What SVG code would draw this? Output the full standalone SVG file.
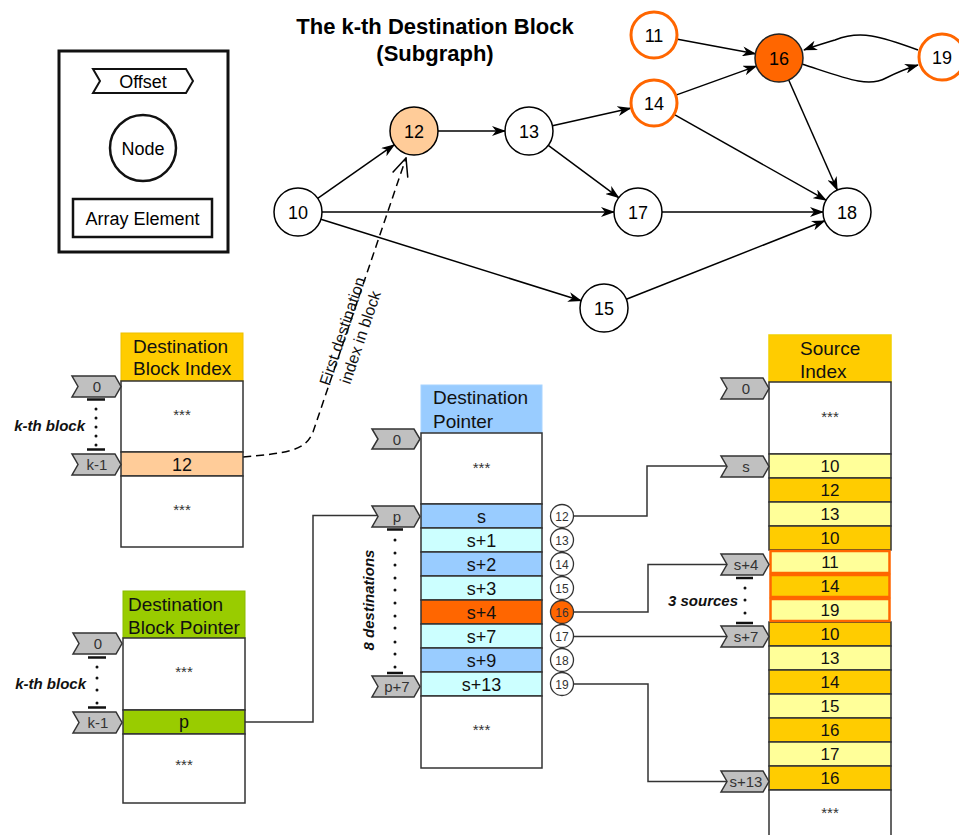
<svg xmlns="http://www.w3.org/2000/svg" width="959" height="835" viewBox="0 0 959 835">
<defs>
<style>
text{font-family:"Liberation Sans",Arial,sans-serif;}
.c{text-anchor:middle}
.gn{fill:#fff;stroke:#000;stroke-width:1.5}
.go{fill:#fff;stroke:#FF6600;stroke-width:3}
.nt{font-size:18px;text-anchor:middle;fill:#000}
.edge{fill:none;stroke:#000;stroke-width:1.5}
.wire{fill:none;stroke:#333;stroke-width:1.5}
.cell{stroke:#333;stroke-width:1.5}
.chev{fill:#C0C0C0;stroke:#333;stroke-width:1.5}
.ct{font-size:15px;fill:#333;text-anchor:middle}
.hd{font-size:19px;fill:#111}
.v{font-size:18px;fill:#111;text-anchor:middle}
.vs{font-size:17px;fill:#111;text-anchor:middle}
.st{font-size:15px;fill:#333;text-anchor:middle}
.sc{fill:#fff;stroke:#333;stroke-width:1.3}
.sct{font-size:12px;fill:#333;text-anchor:middle}
.bi{font-size:15px;font-weight:bold;font-style:italic;fill:#111}
.bar{stroke:#111;stroke-width:2.5}
.dot{fill:#111}
.lt{fill:#FFFF99}
.dk{fill:#FFCC00}
</style>
<marker id="arr" viewBox="0 0 14 10" refX="13" refY="5" markerWidth="14" markerHeight="10" markerUnits="userSpaceOnUse" orient="auto"><path d="M0,0 L14,5 L0,10 L4,5 Z" fill="#000"/></marker>
<marker id="open" viewBox="0 0 20 20" refX="19" refY="10" markerWidth="20" markerHeight="20" markerUnits="userSpaceOnUse" orient="auto"><path d="M1,2 L19,10 L1,18" fill="none" stroke="#000" stroke-width="1.5"/></marker>
</defs>
<rect width="959" height="835" fill="#fff"/>

<!-- Legend -->
<g id="legend">
<rect x="59" y="51" width="169" height="201" fill="#fff" stroke="#111" stroke-width="3"/>
<polygon points="93,69 186,69 193,81 186,93 93,93 100,81" fill="#fff" stroke="#111" stroke-width="2"/>
<text x="143" y="88" class="c" font-size="18">Offset</text>
<circle cx="143" cy="148" r="33" fill="#fff" stroke="#111" stroke-width="2.5"/>
<text x="143" y="154.5" class="c" font-size="18">Node</text>
<rect x="73" y="199" width="139" height="38" fill="#fff" stroke="#111" stroke-width="2.5"/>
<text x="142.5" y="225" class="c" font-size="18">Array Element</text>
</g>

<!-- Title -->
<g id="title">
<text x="435" y="34" class="c" font-size="22" font-weight="bold">The k-th Destination Block</text>
<text x="435" y="61" class="c" font-size="22" font-weight="bold">(Subgraph)</text>
</g>

<!-- Connectors -->
<g id="connectors">
<line class="edge" x1="317.7" y1="198.3" x2="394.3" y2="144.7" marker-end="url(#arr)"/>
<line class="edge" x1="438" y1="131" x2="505" y2="131" marker-end="url(#arr)"/>
<line class="edge" x1="552.4" y1="125.7" x2="630.6" y2="108.3" marker-end="url(#arr)"/>
<line class="edge" x1="548.3" y1="145.3" x2="618.7" y2="197.7" marker-end="url(#arr)"/>
<line class="edge" x1="322" y1="212" x2="614" y2="212" marker-end="url(#arr)"/>
<line class="edge" x1="320.9" y1="219.2" x2="581.1" y2="300.8" marker-end="url(#arr)"/>
<line class="edge" x1="626.3" y1="299.2" x2="824.7" y2="220.8" marker-end="url(#arr)"/>
<line class="edge" x1="662" y1="212" x2="823" y2="212" marker-end="url(#arr)"/>
<line class="edge" x1="674.9" y1="114.8" x2="826.1" y2="200.2" marker-end="url(#arr)"/>
<line class="edge" x1="676.6" y1="94.9" x2="756.4" y2="66.1" marker-end="url(#arr)"/>
<line class="edge" x1="677.6" y1="39.3" x2="755.4" y2="53.7" marker-end="url(#arr)"/>
<line class="edge" x1="788.7" y1="80" x2="837.3" y2="190" marker-end="url(#arr)"/>
<path class="edge" d="M802,64 C845,78 868,88 886,78 C898,72 908,68 918,65" marker-end="url(#arr)"/>
<path class="edge" d="M918,50 C880,36 860,30 835,40 C822,44 812,47 804,50" marker-end="url(#arr)"/>
<path class="edge" d="M243,457 C285,453 305,452 313,432 L406,158" stroke-dasharray="8,5" marker-end="url(#open)"/>
<path class="wire" d="M245,722 H313 V515.5 H378"/>
<path class="wire" d="M573.5,516 H647 V466 H727"/>
<path class="wire" d="M573.5,612 H648 V564.5 H727"/>
<path class="wire" d="M573.5,636.5 H727"/>
<path class="wire" d="M573.5,684 H648 V781.5 H727"/>
</g>

<g id="dashed-label" transform="translate(346.6,332.6) rotate(-71.3)">
<text x="0" y="1" class="c" font-size="16" fill="#111">First destination</text>
<text x="0" y="20" class="c" font-size="16" fill="#111">index in block</text>
</g>

<!-- Graph nodes -->
<g id="n10"><circle class="gn" cx="298" cy="212" r="24"/><text class="nt" x="298" y="218.5">10</text></g>
<g id="n12"><circle cx="414" cy="131" r="24" fill="#FFCC99" stroke="#000" stroke-width="1.5"/><text class="nt" x="414" y="137.5">12</text></g>
<g id="n13"><circle class="gn" cx="529" cy="131" r="24"/><text class="nt" x="529" y="137.5">13</text></g>
<g id="n11"><circle class="go" cx="654" cy="35" r="23"/><text class="nt" x="654" y="41.5">11</text></g>
<g id="n14"><circle class="go" cx="654" cy="103" r="23"/><text class="nt" x="654" y="109.5">14</text></g>
<g id="n16"><circle cx="779" cy="58" r="24" fill="#FF6600" stroke="#222" stroke-width="1.5"/><text class="nt" x="779" y="64.5">16</text></g>
<g id="n19"><circle class="go" cx="942" cy="57" r="23"/><text class="nt" x="942" y="63.5">19</text></g>
<g id="n17"><circle class="gn" cx="638" cy="212" r="24"/><text class="nt" x="638" y="218.5">17</text></g>
<g id="n18"><circle class="gn" cx="847" cy="212" r="24"/><text class="nt" x="847" y="218.5">18</text></g>
<g id="n15"><circle class="gn" cx="604" cy="308" r="24"/><text class="nt" x="604" y="314.5">15</text></g>

<!-- Destination Block Index -->
<g id="dest-block-index">
<rect x="121" y="333" width="122" height="48" fill="#FFCC00" stroke="#EEC000" stroke-width="1"/>
<text class="hd" x="133" y="353">Destination</text>
<text class="hd" x="133" y="375">Block Index</text>
<rect class="cell" x="121" y="381" width="122" height="71" fill="#fff"/>
<text class="st" x="182" y="420">***</text>
<rect class="cell" x="121" y="452" width="122" height="24" fill="#FFCC99"/>
<text class="v" x="182" y="470.5">12</text>
<rect class="cell" x="121" y="476" width="122" height="71" fill="#fff"/>
<text class="st" x="182" y="515">***</text>
</g>
<g id="dbi-offsets">
<polygon class="chev" points="72,376 115,376 121,386.5 115,397 72,397 78,386.5"/>
<text class="ct" x="97" y="392">0</text>
<polygon class="chev" points="72,454 115,454 121,464.5 115,475 72,475 78,464.5"/>
<text class="ct" x="97" y="470">k-1</text>
<line class="bar" x1="87" y1="399.5" x2="105" y2="399.5"/>
<circle class="dot" cx="96" cy="409" r="1.5"/><circle class="dot" cx="96" cy="418" r="1.5"/><circle class="dot" cx="96" cy="427" r="1.5"/><circle class="dot" cx="96" cy="436" r="1.5"/><circle class="dot" cx="96" cy="445" r="1.5"/>
<line class="bar" x1="87" y1="449.5" x2="105" y2="449.5"/>
<text class="bi" x="85" y="431" text-anchor="end">k-th block</text>
</g>

<!-- Destination Block Pointer -->
<g id="dest-block-pointer">
<rect x="123" y="591" width="122" height="47" fill="#99CC00" stroke="#8CBB00" stroke-width="1"/>
<text class="hd" x="128" y="611">Destination</text>
<text class="hd" x="128" y="634">Block Pointer</text>
<rect class="cell" x="123" y="638" width="122" height="72" fill="#fff"/>
<text class="st" x="184" y="677">***</text>
<rect class="cell" x="123" y="710" width="122" height="24" fill="#99CC00"/>
<text class="v" x="184" y="728">p</text>
<rect class="cell" x="123" y="734" width="122" height="69" fill="#fff"/>
<text class="st" x="184" y="770">***</text>
</g>
<g id="dbp-offsets">
<polygon class="chev" points="73,633 116,633 122,643.5 116,654 73,654 79,643.5"/>
<text class="ct" x="98" y="649">0</text>
<polygon class="chev" points="73,712 116,712 122,722.5 116,733 73,733 79,722.5"/>
<text class="ct" x="98" y="728">k-1</text>
<line class="bar" x1="88" y1="657.5" x2="106" y2="657.5"/>
<circle class="dot" cx="97" cy="667" r="1.5"/><circle class="dot" cx="97" cy="678" r="1.5"/><circle class="dot" cx="97" cy="690" r="1.5"/><circle class="dot" cx="97" cy="703" r="1.5"/>
<line class="bar" x1="88" y1="707.5" x2="106" y2="707.5"/>
<text class="bi" x="86" y="689" text-anchor="end">k-th block</text>
</g>

<!-- Destination Pointer -->
<g id="dest-pointer">
<rect x="421" y="385" width="121" height="48" fill="#99CCFF" stroke="#A8D4FF" stroke-width="1"/>
<text class="hd" x="433" y="404">Destination</text>
<text class="hd" x="433" y="428">Pointer</text>
<rect class="cell" x="421" y="433" width="121" height="71" fill="#fff"/>
<text class="st" x="481.5" y="473">***</text>
<rect class="cell" x="421" y="504" width="121" height="24" fill="#99CCFF"/><text class="v" x="481.5" y="522.5">s</text>
<rect class="cell" x="421" y="528" width="121" height="24" fill="#CCFFFF"/><text class="v" x="481.5" y="546.5">s+1</text>
<rect class="cell" x="421" y="552" width="121" height="24" fill="#99CCFF"/><text class="v" x="481.5" y="570.5">s+2</text>
<rect class="cell" x="421" y="576" width="121" height="24" fill="#CCFFFF"/><text class="v" x="481.5" y="594.5">s+3</text>
<rect class="cell" x="421" y="600" width="121" height="24" fill="#FF6600"/><text class="v" x="481.5" y="618.5">s+4</text>
<rect class="cell" x="421" y="624" width="121" height="24" fill="#CCFFFF"/><text class="v" x="481.5" y="642.5">s+7</text>
<rect class="cell" x="421" y="648" width="121" height="24" fill="#99CCFF"/><text class="v" x="481.5" y="666.5">s+9</text>
<rect class="cell" x="421" y="672" width="121" height="24" fill="#CCFFFF"/><text class="v" x="481.5" y="690.5">s+13</text>
<rect class="cell" x="421" y="696" width="121" height="72" fill="#fff"/>
<text class="st" x="481.5" y="735">***</text>
</g>
<g id="dp-nodes">
<circle class="sc" cx="562" cy="516" r="11.5"/><text class="sct" x="562" y="520.5">12</text>
<circle class="sc" cx="562" cy="540" r="11.5"/><text class="sct" x="562" y="544.5">13</text>
<circle class="sc" cx="562" cy="564" r="11.5"/><text class="sct" x="562" y="568.5">14</text>
<circle class="sc" cx="562" cy="588" r="11.5"/><text class="sct" x="562" y="592.5">15</text>
<circle cx="562" cy="612" r="11.5" fill="#FF6600" stroke="#333" stroke-width="1.3"/><text class="sct" x="562" y="616.5">16</text>
<circle class="sc" cx="562" cy="636" r="11.5"/><text class="sct" x="562" y="640.5">17</text>
<circle class="sc" cx="562" cy="660" r="11.5"/><text class="sct" x="562" y="664.5">18</text>
<circle class="sc" cx="562" cy="684" r="11.5"/><text class="sct" x="562" y="688.5">19</text>
</g>
<g id="dp-offsets">
<polygon class="chev" points="372,429 414,429 420,439 414,449 372,449 378,439"/>
<text class="ct" x="397" y="444.5">0</text>
<polygon class="chev" points="372,506 414,506 420,516.5 414,527 372,527 378,516.5"/>
<text class="ct" x="397" y="522">p</text>
<polygon class="chev" points="372,676 414,676 420,686.5 414,697 372,697 378,686.5"/>
<text class="ct" x="397" y="692">p+7</text>
<line class="bar" x1="387" y1="529.5" x2="403" y2="529.5"/>
<circle class="dot" cx="395" cy="540" r="1.5"/><circle class="dot" cx="395" cy="553" r="1.5"/><circle class="dot" cx="395" cy="565" r="1.5"/><circle class="dot" cx="395" cy="578" r="1.5"/><circle class="dot" cx="395" cy="590" r="1.5"/><circle class="dot" cx="395" cy="603" r="1.5"/><circle class="dot" cx="395" cy="616" r="1.5"/><circle class="dot" cx="395" cy="628" r="1.5"/><circle class="dot" cx="395" cy="642" r="1.5"/><circle class="dot" cx="395" cy="654" r="1.5"/><circle class="dot" cx="395" cy="667" r="1.5"/>
<line class="bar" x1="387" y1="673" x2="403" y2="673"/>
<text class="bi" transform="translate(374,600) rotate(-90)" text-anchor="middle">8 destinations</text>
</g>

<!-- Source Index -->
<g id="source-index">
<rect x="769" y="335" width="122" height="47" fill="#FFCC00" stroke="#F2D000" stroke-width="1.5"/>
<text class="hd" x="800" y="355">Source</text>
<text class="hd" x="800" y="378">Index</text>
<rect class="cell" x="769" y="382" width="122" height="72" fill="#fff"/>
<text class="st" x="830" y="422">***</text>
<rect class="cell lt" x="769" y="454" width="122" height="24"/><text class="vs" x="830" y="472">10</text>
<rect class="cell dk" x="769" y="478" width="122" height="24"/><text class="vs" x="830" y="496">12</text>
<rect class="cell lt" x="769" y="502" width="122" height="24"/><text class="vs" x="830" y="520">13</text>
<rect class="cell dk" x="769" y="526" width="122" height="24"/><text class="vs" x="830" y="544">10</text>
<rect class="cell dk" x="769" y="622" width="122" height="24"/><text class="vs" x="830" y="640">10</text>
<rect class="cell lt" x="769" y="646" width="122" height="24"/><text class="vs" x="830" y="664">13</text>
<rect class="cell dk" x="769" y="670" width="122" height="24"/><text class="vs" x="830" y="688">14</text>
<rect class="cell lt" x="769" y="694" width="122" height="24"/><text class="vs" x="830" y="712">15</text>
<rect class="cell dk" x="769" y="718" width="122" height="24"/><text class="vs" x="830" y="736">16</text>
<rect class="cell lt" x="769" y="742" width="122" height="24"/><text class="vs" x="830" y="760">17</text>
<rect class="cell dk" x="769" y="766" width="122" height="24"/><text class="vs" x="830" y="784">16</text>
<rect class="cell" x="769" y="790" width="122" height="50" fill="#fff"/>
<text class="st" x="830" y="818">***</text>
<rect x="770.5" y="551" width="119" height="22" class="lt" stroke="#FF6600" stroke-width="2.5"/><text class="vs" x="830" y="568">11</text>
<rect x="770.5" y="575" width="119" height="22" class="dk" stroke="#FF6600" stroke-width="2.5"/><text class="vs" x="830" y="592">14</text>
<rect x="770.5" y="599" width="119" height="22" class="lt" stroke="#FF6600" stroke-width="2.5"/><text class="vs" x="830" y="616">19</text>
</g>
<g id="si-offsets">
<polygon class="chev" points="721,378 763,378 769,388.5 763,399 721,399 727,388.5"/>
<text class="ct" x="746" y="394">0</text>
<polygon class="chev" points="721,456 763,456 769,466.5 763,477 721,477 727,466.5"/>
<text class="ct" x="746" y="472">s</text>
<polygon class="chev" points="721,554 763,554 769,564.5 763,575 721,575 727,564.5"/>
<text class="ct" x="746" y="570">s+4</text>
<polygon class="chev" points="721,626 763,626 769,636.5 763,647 721,647 727,636.5"/>
<text class="ct" x="746" y="642">s+7</text>
<polygon class="chev" points="721,771 763,771 769,781.5 763,792 721,792 727,781.5"/>
<text class="ct" x="746" y="787">s+13</text>
<line class="bar" x1="736" y1="578" x2="753" y2="578"/>
<circle class="dot" cx="745" cy="588" r="1.5"/><circle class="dot" cx="745" cy="600" r="1.5"/><circle class="dot" cx="745" cy="613" r="1.5"/>
<line class="bar" x1="736" y1="623" x2="753" y2="623"/>
<text class="bi" x="738" y="606" text-anchor="end">3 sources</text>
</g>
</svg>
